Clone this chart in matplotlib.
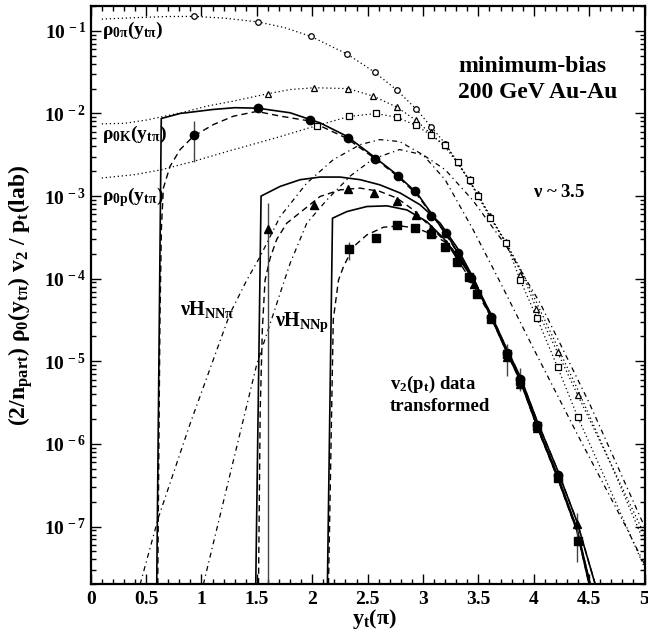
import numpy as np
import matplotlib
matplotlib.use("Agg")
import matplotlib.pyplot as plt
from matplotlib.ticker import MultipleLocator, LogLocator, FuncFormatter, NullFormatter, FixedLocator

plt.rcParams['font.family'] = ['Liberation Serif', 'DejaVu Serif']
plt.rcParams['font.weight'] = 'bold'
plt.rcParams['axes.labelweight'] = 'bold'
plt.rcParams['mathtext.fontset'] = 'custom'
plt.rcParams['mathtext.rm'] = 'Liberation Serif:bold'
plt.rcParams['mathtext.it'] = 'Liberation Serif:bold'
plt.rcParams['mathtext.bf'] = 'Liberation Serif:bold'

# ---------------- data ----------------
# dotted rho_0 curves
rho_pi_x = [0.10, 0.4, 0.7, 0.936, 1.2, 1.508, 1.75, 1.99, 2.318, 2.565, 2.764, 2.936, 3.074, 3.203, 3.312, 3.42, 3.5, 3.607, 3.75, 3.9, 4.1, 4.4, 4.7, 5.0]
rho_pi_y = [0.1387, 0.1445, 0.1493, 0.1496, 0.1429, 0.1285, 0.1096, 0.0855, 0.0521, 0.0315, 0.0192, 0.0114, 0.00689, 0.00429, 0.00257, 0.00155, 0.00102, 5.75e-4, 2.75e-4, 1.17e-4, 3.16e-5, 4.47e-6, 5.6e-7, 6.3e-8]

rho_K_x = [0.10, 0.3, 0.5, 0.641, 0.85, 1.048, 1.288, 1.599, 1.8, 2.02, 2.324, 2.553, 2.764, 2.936, 3.074, 3.203, 3.312, 3.42, 3.5, 3.607, 3.75, 3.9, 4.023, 4.215, 4.396, 4.7, 5.0]
rho_K_y = [7.5e-3, 7.59e-3, 8.32e-3, 9.12e-3, 1.047e-2, 1.227e-2, 1.413e-2, 1.734e-2, 1.95e-2, 2.05e-2, 2.0e-2, 1.62e-2, 1.194e-2, 8.3e-3, 5.62e-3, 3.89e-3, 2.51e-3, 1.51e-3, 1.0e-3, 5.62e-4, 2.63e-4, 1.12e-4, 4.37e-5, 1.29e-5, 3.93e-6, 5.6e-7, 8.0e-8]

rho_p_x = [0.10, 0.4, 0.641, 0.927, 1.258, 1.5, 1.71, 2.042, 2.333, 2.574, 2.764, 2.936, 3.074, 3.203, 3.312, 3.42, 3.496, 3.607, 3.752, 3.878, 4.029, 4.215, 4.396, 4.7, 5.0]
rho_p_y = [1.656e-3, 1.82e-3, 2.09e-3, 2.63e-3, 3.55e-3, 4.37e-3, 5.25e-3, 7.14e-3, 9.2e-3, 1.0e-2, 9.0e-3, 7.2e-3, 5.45e-3, 4.12e-3, 2.57e-3, 1.55e-3, 1.0e-3, 5.5e-4, 2.69e-4, 9.6e-5, 3.35e-5, 8.5e-6, 2.14e-6, 2.6e-7, 3.2e-8]

# dash-dot hard components nu*H_NN
hpi_x = [0.446, 0.611, 0.897, 1.258, 1.409, 1.529, 1.71, 1.951, 2.19, 2.433, 2.61, 2.79, 3.0, 3.2, 3.45, 3.70, 4.0, 4.4, 4.84, 5.0]
hpi_y = [2.0e-8, 1.28e-7, 1.75e-6, 3.8e-5, 9.6e-5, 1.85e-4, 5.65e-4, 1.44e-3, 2.76e-3, 4.2e-3, 4.83e-3, 4.57e-3, 3.16e-3, 1.58e-3, 3.98e-4, 8.9e-5, 1.41e-5, 1.26e-6, 9.5e-8, 3.5e-8]

hp_x = [1.017, 1.50, 1.74, 1.80, 1.951, 2.132, 2.35, 2.55, 2.79, 3.0, 3.2, 3.45, 3.75, 4.06, 4.5, 5.0]
hp_y = [2.0e-8, 9.3e-6, 8.8e-5, 1.53e-4, 4.7e-4, 9.0e-4, 1.78e-3, 2.82e-3, 3.66e-3, 3.16e-3, 2.09e-3, 8.9e-4, 2.51e-4, 5.0e-5, 3.16e-6, 1.0e-7]

# solid quadrupole model curves
sol_pi_x = [0.596, 0.637, 0.807, 1.108, 1.3, 1.508, 1.80, 2.071, 2.313, 2.553, 2.764, 2.945, 3.095, 3.246, 3.43, 3.61, 3.76, 3.88, 4.03, 4.21, 4.39, 4.51]
sol_pi_y = [2.0e-8, 8.7e-3, 1.0e-2, 1.12e-2, 1.175e-2, 1.16e-2, 1.02e-2, 7.7e-3, 5.3e-3, 3.03e-3, 1.82e-3, 1.09e-3, 5.65e-4, 2.94e-4, 1.12e-4, 3.63e-5, 1.32e-5, 6.03e-6, 1.70e-6, 4.37e-7, 9.5e-8, 2.0e-8]

sol_K_x = [1.49, 1.538, 1.71, 1.891, 2.071, 2.252, 2.433, 2.61, 2.794, 2.975, 3.155, 3.306, 3.45, 3.61, 3.76, 3.88, 4.03, 4.21, 4.39, 4.50]
sol_K_y = [2.0e-8, 1.0e-3, 1.31e-3, 1.58e-3, 1.70e-3, 1.70e-3, 1.58e-3, 1.37e-3, 1.09e-3, 7.83e-4, 4.7e-4, 2.4e-4, 1.05e-4, 3.55e-5, 1.26e-5, 5.75e-6, 1.62e-6, 4.07e-7, 8.9e-8, 2.0e-8]

sol_p_x = [2.137, 2.183, 2.313, 2.493, 2.674, 2.855, 3.035, 3.185, 3.306, 3.45, 3.61, 3.76, 3.88, 4.03, 4.21, 4.39, 4.555]
sol_p_y = [2.0e-8, 5.4e-4, 6.5e-4, 7.48e-4, 7.62e-4, 6.8e-4, 4.9e-4, 3.09e-4, 1.9e-4, 1.0e-4, 3.8e-5, 1.38e-5, 6.45e-6, 1.9e-6, 5.0e-7, 1.15e-7, 2.0e-8]

# dashed curves
das_pi_x = [0.605, 0.625, 0.638, 0.656, 0.716, 0.807, 0.927, 1.108, 1.288, 1.5, 1.71, 1.98, 2.313, 2.565, 2.77, 2.94, 3.1, 3.25, 3.43, 3.61, 3.76, 3.88, 4.03, 4.21, 4.39, 4.51]
das_pi_y = [2.0e-8, 3.2e-5, 4.0e-4, 1.25e-3, 2.29e-3, 3.66e-3, 5.3e-3, 7.35e-3, 9.27e-3, 1.06e-2, 9.3e-3, 8.1e-3, 5.0e-3, 2.85e-3, 1.74e-3, 1.06e-3, 5.5e-4, 2.82e-4, 1.07e-4, 3.55e-5, 1.29e-5, 5.9e-6, 1.66e-6, 4.2e-7, 9.2e-8, 2.0e-8]

das_K_x = [1.515, 1.53, 1.55, 1.574, 1.62, 1.68, 1.77, 1.92, 2.071, 2.252, 2.433, 2.61, 2.764, 2.914, 3.065, 3.216, 3.40, 3.61, 3.76, 3.88, 4.03, 4.21, 4.39, 4.50]
das_K_y = [2.0e-8, 2.5e-6, 2.5e-5, 9.6e-5, 1.78e-4, 3.0e-4, 4.7e-4, 6.8e-4, 9.9e-4, 1.19e-3, 1.25e-3, 1.14e-3, 9.46e-4, 6.8e-4, 4.28e-4, 2.7e-4, 1.12e-4, 3.5e-5, 1.25e-5, 5.7e-6, 1.6e-6, 4.0e-7, 8.8e-8, 2.0e-8]

das_p_x = [2.147, 2.19, 2.237, 2.282, 2.372, 2.493, 2.643, 2.794, 2.945, 3.095, 3.216, 3.306, 3.45, 3.61, 3.76, 3.88, 4.03, 4.21, 4.39, 4.555]
das_p_y = [2.0e-8, 3.2e-5, 9.6e-5, 1.4e-4, 2.44e-4, 3.39e-4, 4.2e-4, 4.36e-4, 4.08e-4, 3.39e-4, 2.69e-4, 2.0e-4, 1.0e-4, 3.8e-5, 1.38e-5, 6.45e-6, 1.9e-6, 5.0e-7, 1.15e-7, 2.0e-8]

# open symbols: spectrum data
op_pi_x = [0.936, 1.508, 1.99, 2.318, 2.565, 2.764, 2.936, 3.074, 3.203, 3.312, 3.42, 3.496, 3.607, 3.752]
op_pi_y = [0.150, 0.128, 0.0855, 0.052, 0.0315, 0.0192, 0.0114, 0.00689, 0.00428, 0.00256, 0.00153, 9.9e-4, 5.5e-4, 2.68e-4]
op_K_x = [1.599, 2.02, 2.324, 2.553, 2.764, 2.936, 3.074, 3.203, 3.312, 3.42, 3.496, 3.607, 3.752, 3.878, 4.023, 4.215, 4.396]
op_K_y = [0.0173, 0.0205, 0.020, 0.0162, 0.0119, 0.0083, 0.0059, 0.0042, 0.0026, 0.0016, 0.00105, 5.8e-4, 2.8e-4, 1.1e-4, 4.35e-5, 1.29e-5, 3.9e-6]
op_p_x = [2.042, 2.333, 2.574, 2.764, 2.936, 3.074, 3.203, 3.312, 3.42, 3.496, 3.607, 3.752, 3.878, 4.029, 4.215, 4.396]
op_p_y = [7.15e-3, 9.2e-3, 1.0e-2, 9.0e-3, 7.2e-3, 5.45e-3, 4.1e-3, 2.56e-3, 1.55e-3, 1.0e-3, 5.5e-4, 2.69e-4, 9.6e-5, 3.35e-5, 8.5e-6, 2.14e-6]

# filled symbols: v2(pt) data transformed
v2_pi_x = [0.936, 1.514, 1.984, 2.322, 2.565, 2.77, 2.932, 3.074, 3.207, 3.312, 3.43, 3.61, 3.758, 3.878, 4.029, 4.215]
v2_pi_y = [5.45e-3, 1.17e-2, 8.38e-3, 5.01e-3, 2.81e-3, 1.77e-3, 1.14e-3, 5.81e-4, 3.55e-4, 2.03e-4, 1.02e-4, 3.47e-5, 1.26e-5, 6.03e-6, 1.70e-6, 4.17e-7]
v2_K_x = [1.599, 2.017, 2.324, 2.562, 2.767, 2.936, 3.07, 3.207, 3.306, 3.46, 3.613, 3.758, 3.878, 4.029, 4.215, 4.39]
v2_K_y = [4.01e-4, 7.83e-4, 1.23e-3, 1.09e-3, 8.77e-4, 5.93e-4, 3.98e-4, 2.63e-4, 1.78e-4, 8.7e-5, 3.39e-5, 1.12e-5, 5.25e-6, 1.58e-6, 3.98e-7, 1.06e-7]
v2_p_x = [2.331, 2.577, 2.764, 2.932, 3.074, 3.203, 3.306, 3.411, 3.487, 3.613, 3.758, 3.878, 4.029, 4.215, 4.396]
v2_p_y = [2.27e-4, 3.14e-4, 4.48e-4, 4.08e-4, 3.45e-4, 2.44e-4, 1.60e-4, 1.05e-4, 6.5e-5, 3.29e-5, 1.21e-5, 5.86e-6, 1.63e-6, 3.92e-7, 6.67e-8]

# error bars (x, low, high)
err_x = [0.936, 1.599, 2.331, 3.758, 3.878, 4.39]
err_lo = [2.59e-3, 1.0e-9, 1.68e-4, 6.7e-6, 4.4e-6, 3.74e-8]
err_hi = [8.05e-3, 8.2e-4, 2.8e-4, 1.64e-5, 8.4e-6, 1.47e-7]

xticks = [0, 0.5, 1, 1.5, 2, 2.5, 3, 3.5, 4, 4.5, 5]
ydecades = [1e-7, 1e-6, 1e-5, 1e-4, 1e-3, 1e-2, 1e-1]

# ---------------- figure ----------------
fig = plt.figure(figsize=(6.48, 6.39), dpi=100)
ax = fig.add_axes([0.140, 0.0856, 0.8546, 0.905])
ax.set_yscale('log')
ax.set_xlim(0, 5)
ax.set_ylim(2e-8, 0.2)

dot = dict(color='black', lw=0.9, linestyle=(0, (1, 2.2)))
dashdot = dict(color='black', lw=0.9, linestyle=(0, (4, 3, 1, 3)))
dash = dict(color='black', lw=1.0, linestyle=(0, (4.5, 3)))
solid = dict(color='black', lw=1.2, linestyle='-')

ax.plot(rho_pi_x, rho_pi_y, **dot)
ax.plot(rho_K_x, rho_K_y, **dot)
ax.plot(rho_p_x, rho_p_y, **dot)
ax.plot(hpi_x, hpi_y, **dashdot)
ax.plot(hp_x, hp_y, **dashdot)
ax.plot(sol_pi_x, sol_pi_y, **solid)
ax.plot(sol_K_x, sol_K_y, **solid)
ax.plot(sol_p_x, sol_p_y, **solid)
ax.plot(das_pi_x, das_pi_y, **dash)
ax.plot(das_K_x, das_K_y, **dash)
ax.plot(das_p_x, das_p_y, **dash)

ax.vlines(err_x, err_lo, err_hi, color='#444444', lw=1.0)

ax.plot(op_pi_x, op_pi_y, 'o', mfc='white', mec='black', ms=4, mew=0.9, ls='none')
ax.plot(op_K_x, op_K_y, '^', mfc='white', mec='black', ms=4.5, mew=0.9, ls='none')
ax.plot(op_p_x, op_p_y, 's', mfc='white', mec='black', ms=4, mew=0.9, ls='none')

ax.plot(v2_pi_x, v2_pi_y, 'o', color='black', ms=6, ls='none')
ax.plot(v2_K_x, v2_K_y, '^', color='black', ms=6, ls='none')
ax.plot(v2_p_x, v2_p_y, 's', color='black', ms=5.5, ls='none')

# text labels
ax.text(0.1, 0.1, r'$\rho_{0\pi}(y_{t\pi})$', fontsize=14, va='center', ha='left')
ax.text(0.1, 5.6e-3, r'$\rho_{0K}(y_{t\pi})$', fontsize=14, va='center', ha='left')
ax.text(0.1, 9.8e-4, r'$\rho_{0p}(y_{t\pi})$', fontsize=14, va='center', ha='left')
ax.text(3.316, 0.037, 'minimum-bias', fontsize=17, va='center', ha='left')
ax.text(3.316, 0.0178, '200 GeV Au-Au', fontsize=17, va='center', ha='left')
ax.text(3.99, 1.11e-3, r'$\nu$ ~ 3.5', fontsize=13.5, va='center', ha='left')
ax.text(0.81, 4.2e-5, r'$\nu H_{NN\pi}$', fontsize=14.5, va='center', ha='left')
ax.text(1.665, 3.0e-5, r'$\nu H_{NNp}$', fontsize=14.5, va='center', ha='left')
ax.text(2.70, 5.3e-6, r'v$_2$(p$_t$) data', fontsize=13.5, va='center', ha='left')
ax.text(2.70, 2.85e-6, 'transformed', fontsize=13.5, va='center', ha='left')

# axes styling
ax.xaxis.set_major_locator(FixedLocator(xticks))
ax.xaxis.set_minor_locator(MultipleLocator(0.1))
ax.xaxis.set_major_formatter(FuncFormatter(lambda v, p: '%g' % v))
ax.yaxis.set_major_locator(FixedLocator(ydecades))
ax.yaxis.set_major_formatter(FuncFormatter(lambda v, p: r'$10^{\,%d}$' % int(round(np.log10(v)))))
ax.yaxis.set_minor_locator(LogLocator(base=10, subs=np.arange(2, 10), numticks=20))
ax.yaxis.set_minor_formatter(NullFormatter())
ax.tick_params(which='both', direction='in', top=True, right=True, width=1.0)
ax.tick_params(which='major', length=7)
ax.tick_params(which='minor', length=3.5)
ax.tick_params(axis='x', labelsize=14, pad=5)
ax.tick_params(axis='y', labelsize=14, pad=3)
for s in ax.spines.values():
    s.set_linewidth(1.6)

ax.set_xlabel(r'y$_t$($\pi$)', fontsize=16)
ax.xaxis.set_label_coords(0.513, -0.04)
ax.set_ylabel(r'(2/n$_{part}$) $\rho_0$(y$_{t\pi}$) v$_2$ / p$_t$(lab)', fontsize=17)
ax.yaxis.set_label_coords(-0.10, 0.5)

fig.savefig('out.png', dpi=100)
